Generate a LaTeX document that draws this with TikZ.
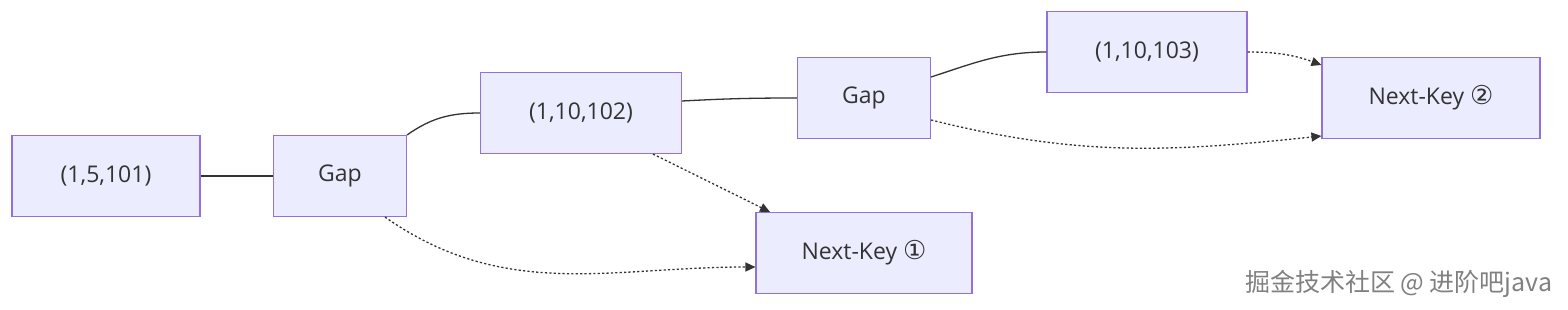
\documentclass[tikz,border=0pt]{standalone}
\usepackage{fontspec}
\setmainfont{Open Sans}
\newfontfamily\circfont{DejaVu Sans}
\newfontfamily\cjkfont{Noto Sans CJK SC}
\usetikzlibrary{arrows.meta}
\definecolor{boxfill}{HTML}{ECECFF}
\definecolor{boxline}{HTML}{9370DB}
\definecolor{inkgray}{HTML}{333333}
\tikzset{
  keybox/.style={draw=boxline,fill=boxfill,line width=1.1pt,text=inkgray,
    minimum width=#1,minimum height=81,inner sep=0pt,font=\fontsize{23}{26}\selectfont},
  keybox/.default=200,
  link/.style={draw=inkgray,line width=1.3pt},
  nextlink/.style={draw=inkgray,line width=1.3pt,dash pattern=on 2.2pt off 2.2pt,
    -{Triangle[length=10pt,width=9pt]}}
}
\begin{document}
\begin{tikzpicture}[x=1pt,y=-1pt]
  \useasboundingbox (0,0) rectangle (1568,310);
  % record and gap boxes
  \node[keybox=188] (k101) at (106,176) {(1,5,101)};
  \node[keybox=133] (gap1) at (340,176) {Gap};
  \node[keybox=201] (k102) at (581,113) {(1,10,102)};
  \node[keybox=133] (gap2) at (864,98) {Gap};
  \node[keybox=200] (k103) at (1147,52) {(1,10,103)};
  \node[keybox=218] (nk2) at (1431,98) {Next-Key {\circfont\fontsize{26}{28}\selectfont ②}};
  \node[keybox=216] (nk1) at (864,253) {Next-Key {\circfont\fontsize{26}{28}\selectfont ①}};
  % links between neighbours
  \draw[link] (k101) -- (gap1);
  \draw[link] (gap1.north east) to[out=35,in=180] (k102.west);
  \draw[link] ([yshift=12]k102.east) to[out=3,in=180] (gap2.west);
  \draw[link] ([yshift=21]gap2.east) to[out=18,in=180] (k103.west);
  % next-key locks
  \draw[nextlink] (k103.east) to[out=0,in=160] ([yshift=33]nk2.west);
  \draw[nextlink] ([yshift=-22]gap2.east) to[out=-14,in=186] ([yshift=-38]nk2.west);
  \draw[nextlink] ([xshift=72]k102.south) -- ([xshift=-94]nk1.north);
  \draw[nextlink] ([xshift=45]gap1.south) to[out=-35,in=180] ([yshift=-14]nk1.west);
  \node[text=gray,font=\cjkfont\fontsize{25}{28}\selectfont,anchor=east] (mark) at (1556,284) {掘金技术社区 @ 进阶吧java};
\end{tikzpicture}
\end{document}
